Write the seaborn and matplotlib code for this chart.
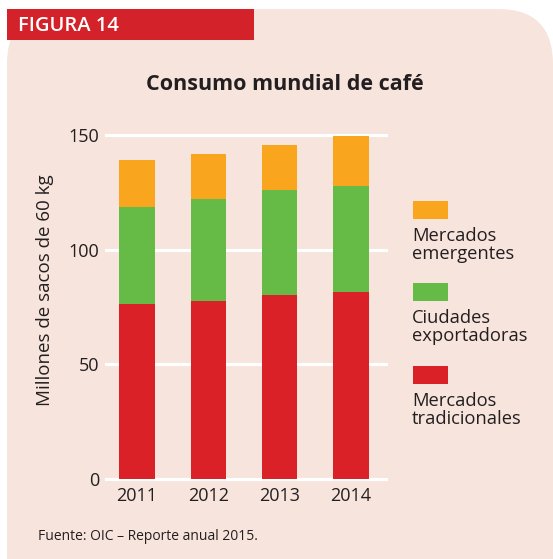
import matplotlib
matplotlib.use("Agg")
import matplotlib.pyplot as plt
from matplotlib.patches import FancyBboxPatch, Rectangle
import numpy as np
import pandas as pd
import seaborn as sns

years = ["2011", "2012", "2013", "2014"]
tradicionales = [76.5, 77.7, 80.3, 81.6]
exportadoras = [42.1, 44.4, 45.8, 46.2]
emergentes = [20.5, 19.6, 19.5, 21.8]
series_names = ["Mercados\nemergentes", "Ciudades\nexportadoras", "Mercados\ntradicionales"]
yticks = [0, 50, 100, 150]

RED = "#DA2128"
GREEN = "#66BB47"
ORANGE = "#F9A51E"
PANEL = "#F7E4DC"
TEXT = "#231F20"

sns.set_theme(style="whitegrid")
plt.rcParams["font.family"] = ["Open Sans", "DejaVu Sans"]

df = pd.DataFrame({"year": years, "trad": tradicionales,
                   "exp": exportadoras, "emer": emergentes})
df["c2"] = df["trad"] + df["exp"]
df["c3"] = df["c2"] + df["emer"]

W, H = 553, 559
fig = plt.figure(figsize=(W / 100, H / 100), dpi=100)
fig.patch.set_facecolor("white")

def px(x, y):
    return x / W, 1 - y / H

# background panel with rounded top-right corner
panel = FancyBboxPatch((7 / 100, -1.0), (W - 7) / 100, (H - 9) / 100 + 1.0,
                       boxstyle="round,pad=0,rounding_size=0.55",
                       transform=fig.dpi_scale_trans, facecolor=PANEL,
                       edgecolor="none", zorder=0)
fig.add_artist(panel)
header = Rectangle(px(7, 40), 247 / W, 31 / H, transform=fig.transFigure,
                   facecolor="#D3222A", edgecolor="none", zorder=1)
fig.add_artist(header)
fig.text(*px(18, 26), "FIGURA 14", color="white", fontsize=14.5,
         weight="semibold", ha="left", va="center", zorder=2)

ax = fig.add_axes([105 / W, 1 - 482.7 / H, 283 / W, 359.2 / H])
ax.set_facecolor("none")
sns.barplot(data=df, x="year", y="c3", color=ORANGE, width=0.5,
            saturation=1, linewidth=0, ax=ax, zorder=2)
sns.barplot(data=df, x="year", y="c2", color=GREEN, width=0.5,
            saturation=1, linewidth=0, ax=ax, zorder=3)
sns.barplot(data=df, x="year", y="trad", color=RED, width=0.5,
            saturation=1, linewidth=0, ax=ax, zorder=4)

ax.set_xlim(-0.45, 3.52)
ax.set_ylim(-1.5, 155)
ax.set_yticks(yticks)
ax.set_xlabel("")
ax.set_ylabel("")
ax.grid(axis="y", color="white", linewidth=2.3)
ax.grid(axis="x", visible=False)
ax.set_axisbelow(True)
for s in ax.spines.values():
    s.set_visible(False)
ax.tick_params(axis="both", length=0, labelsize=13, colors=TEXT)
ax.tick_params(axis="y", pad=4)
ax.tick_params(axis="x", pad=3)

fig.text(*px(285, 85), "Consumo mundial de café", fontsize=15.5,
         weight="bold", ha="center", va="center", color=TEXT)
fig.text(*px(45, 290), "Millones de sacos de 60 kg", fontsize=13.5,
         rotation=90, ha="center", va="center", color=TEXT)
fig.text(*px(38, 537), "Fuente: OIC – Reporte anual 2015.", fontsize=10,
         ha="left", va="center", color=TEXT)

# legend: swatch above label
for name, col, ytop in zip(series_names, [ORANGE, GREEN, RED], [201, 283, 366]):
    fig.add_artist(Rectangle(px(413, ytop + 18), 35 / W, 18 / H,
                             transform=fig.transFigure, facecolor=col,
                             edgecolor="none"))
    fig.text(*px(412, ytop + 26), name, fontsize=13.2, ha="left", va="top",
             color=TEXT, linespacing=1.0)

fig.savefig("out.png", dpi=100)
